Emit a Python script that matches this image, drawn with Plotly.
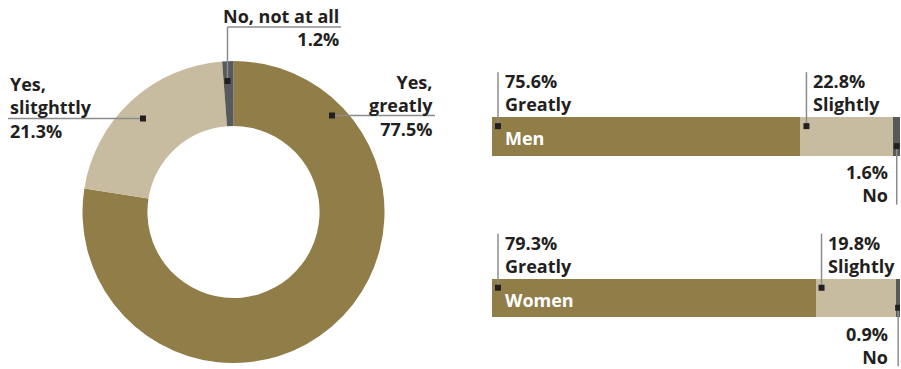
import plotly.graph_objects as go

# Overall answers (donut)
answers = ["Yes, greatly", "Yes, slitghttly", "No, not at all"]
answer_share = [77.5, 21.3, 1.2]

# Answers split by gender (stacked bars)
groups = ["Men", "Women"]
responses = ["Greatly", "Slightly", "No"]
men_share = [75.6, 22.8, 1.6]
women_share = [79.3, 19.8, 0.9]

COLORS = ["#917D48", "#C8BCA0", "#58595B"]
INK = "#231F20"
LEAD = "#8C8C8C"
FONT = "Open Sans"
FSIZE = 18
W, H = 901, 369


def px(x):
    return x / W


def py(y):
    return 1 - y / H


fig = go.Figure()

# ---- donut -------------------------------------------------------------
fig.add_trace(go.Pie(
    labels=answers, values=answer_share, hole=0.57, sort=False,
    direction="clockwise", rotation=0, textinfo="none",
    marker=dict(colors=COLORS, line=dict(width=0)),
    domain=dict(x=[px(82), px(385)], y=[py(363), py(61)]),
    hoverinfo="label+value",
))

# ---- stacked bars ------------------------------------------------------
by_group = [men_share, women_share]
BAR_W = 0.238
for ri, resp in enumerate(responses):
    fig.add_trace(go.Bar(
        y=groups, x=[g[ri] for g in by_group], orientation="h",
        name=resp, width=BAR_W, marker=dict(color=COLORS[ri], line=dict(width=0)),
        xaxis="x", yaxis="y", hovertemplate="%{y}: %{x}%<extra>" + resp + "</extra>",
    ))

annotations = []
shapes = []


def text(lines, x, y, anchor, color=INK, **kw):
    annotations.append(dict(
        text="<br>".join(lines), x=x, y=y, xanchor=anchor, yanchor="middle",
        align=anchor, showarrow=False,
        font=dict(family=FONT, size=FSIZE, color=color, weight=700), **kw))


def paper_line(x0, y0, x1, y1):
    shapes.append(dict(type="line", xref="paper", yref="paper",
                       x0=px(x0), y0=py(y0), x1=px(x1), y1=py(y1),
                       line=dict(color=LEAD, width=1.5)))


def paper_dot(x, y):
    shapes.append(dict(type="rect", xref="paper", yref="paper",
                       x0=px(x - 3), x1=px(x + 3), y0=py(y + 3), y1=py(y - 3),
                       fillcolor=INK, line=dict(width=0)))


def pct(v):
    return f"{v:.1f}%"


# donut callouts
text(answers[0].split(" ") + [pct(answer_share[0])], px(435), py(105), "right",
     xref="paper", yref="paper")
paper_line(332, 115.5, 435, 115.5)
paper_dot(332, 115.5)

text(answers[1].split(" ") + [pct(answer_share[1])], px(8), py(107.5), "left",
     xref="paper", yref="paper")
paper_line(8, 118.5, 143, 118.5)
paper_dot(143, 118.5)

text([answers[2], pct(answer_share[2])], px(341), py(27.5), "right",
     xref="paper", yref="paper")
paper_line(227.5, 27, 341, 27)
paper_line(227.5, 27, 227.5, 81)
paper_dot(227.5, 81)

# bar callouts
HALF = 19.25  # half bar thickness in px
for gi, (grp, vals) in enumerate(zip(groups, by_group)):
    text([grp], 0, gi, "left", color="white", xref="x", yref="y", xshift=11, yshift=-2)
    start = 0.0
    for ri, (resp, v) in enumerate(zip(responses, vals)):
        if ri < 2:
            # label above the bar, leader from the segment start
            text([pct(v), resp], start, gi, "left", xref="x", yref="y",
                 xshift=10.5, yshift=43.5)
            shapes.append(dict(type="line", xref="x", yref="y",
                               xsizemode="pixel", xanchor=start, x0=6, x1=6,
                               ysizemode="pixel", yanchor=gi, y0=HALF + 45, y1=HALF - 9,
                               line=dict(color=LEAD, width=1.5)))
            shapes.append(dict(type="rect", xref="x", yref="y",
                               xsizemode="pixel", xanchor=start, x0=3, x1=9,
                               ysizemode="pixel", yanchor=gi, y0=HALF - 12, y1=HALF - 6,
                               fillcolor=INK, line=dict(width=0)))
        else:
            # label below the bar, leader from the segment middle
            mid = start + v / 2
            text([pct(v), resp], 100, gi, "right", xref="x", yref="y",
                 xshift=-10.5, yshift=-47.5)
            shapes.append(dict(type="line", xref="x", yref="y",
                               xsizemode="pixel", xanchor=mid, x0=0, x1=0,
                               ysizemode="pixel", yanchor=gi, y0=-HALF + 9.5, y1=-HALF - 49,
                               line=dict(color=LEAD, width=1.5)))
            shapes.append(dict(type="rect", xref="x", yref="y",
                               xsizemode="pixel", xanchor=mid, x0=-3, x1=3,
                               ysizemode="pixel", yanchor=gi, y0=-HALF + 6.5, y1=-HALF + 12.5,
                               fillcolor=INK, line=dict(width=0)))
        start += v

fig.update_layout(
    width=W, height=H, margin=dict(l=0, r=0, t=0, b=0),
    paper_bgcolor="white", plot_bgcolor="white", showlegend=False,
    barmode="stack", bargap=0,
    xaxis=dict(domain=[px(492), px(900)], range=[0, 100], visible=False, fixedrange=True),
    yaxis=dict(domain=[0, 1], range=[1.4394, -0.844], visible=False, fixedrange=True,
               type="category", categoryorder="array", categoryarray=groups),
    annotations=annotations, shapes=shapes,
    font=dict(family=FONT),
)

fig.write_html("out.html")
